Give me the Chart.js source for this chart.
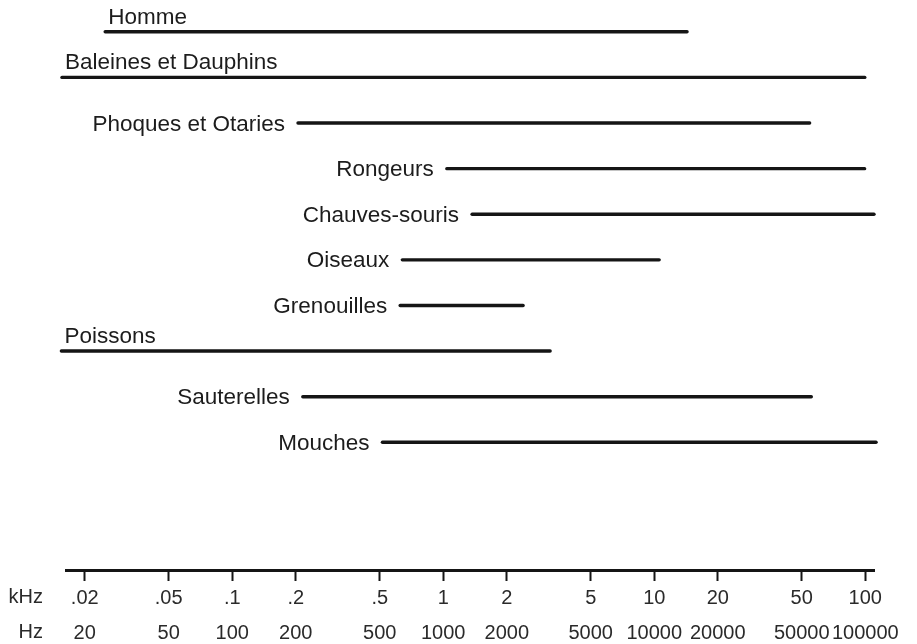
<!DOCTYPE html>
<html lang="fr">
<head>
<meta charset="utf-8">
<title>Domaines d'audition</title>
<script src="https://cdn.jsdelivr.net/npm/chart.js@4/dist/chart.umd.min.js"></script>
<style>
  html, body { margin: 0; padding: 0; background: #fff; }
  #wrap { width: 917px; height: 644px; position: relative; }
</style>
</head>
<body>
<div id="wrap"><canvas id="chartAudition"></canvas></div>
<script>
// groupes d'animaux, du haut vers le bas
var categories = ["Homme", "Baleines et Dauphins", "Phoques et Otaries", "Rongeurs", "Chauves-souris",
    "Oiseaux", "Grenouilles", "Poissons", "Sauterelles", "Mouches"]

// limites basse et haute de l'audition, en Hz
var lowHz = [25, 15.6, 205, 1040, 1370, 640, 625, 15.5, 216, 515]
var highHz = [14300, 99500, 54500, 99300, 110000, 10550, 2390, 3210, 55500, 112500]

// graduations de l'axe
var tickHz = [20, 50, 100, 200, 500, 1000, 2000, 5000, 10000, 20000, 50000, 100000]
var tickKHz = [".02", ".05", ".1", ".2", ".5", "1", "2", "5", "10", "20", "50", "100"]

// ces groupes ont leur nom au-dessus du trait, les autres à gauche
var labelAbove = ["Homme", "Baleines et Dauphins", "Poissons"]

var INK = "#151515"
var FONT = "'Liberation Sans', Arial, Helvetica, sans-serif"

var datasets = categories.map(function (nom, i) {
    return {
        label: nom,
        data: [{x: lowHz[i], y: i}, {x: highHz[i], y: i}],
        showLine: true,
        borderColor: INK,
        borderWidth: 3.4,
        borderCapStyle: "round",
        pointRadius: 0,
        clip: false
    }
})

// noms des groupes + titres des lignes de graduation
var labelsPlugin = {
    id: "labelsGroupes",
    afterDraw: function (chart) {
        var ctx = chart.ctx
        var sx = chart.scales.x
        var sy = chart.scales.y
        ctx.save()
        ctx.fillStyle = "#1c1c1c"
        ctx.font = "22.5px " + FONT
        ctx.textBaseline = "alphabetic"
        categories.forEach(function (nom, i) {
            var x0 = sx.getPixelForValue(lowHz[i])
            var y = sy.getPixelForValue(i)
            if (labelAbove.indexOf(nom) >= 0) {
                ctx.textAlign = "left"
                ctx.fillText(nom, x0 + 3, y - 8)
            } else {
                ctx.textAlign = "right"
                ctx.fillText(nom, x0 - 13, y + 7.5)
            }
        })

        var bas = chart.chartArea.bottom
        ctx.font = "20px " + FONT
        ctx.fillStyle = "#2a2a2a"
        ctx.textAlign = "right"
        ctx.textBaseline = "middle"
        ctx.fillText("kHz", 43, bas + 27)
        ctx.fillText("Hz", 43, bas + 62)
        ctx.restore()
    }
}

var chart = new Chart("chartAudition", {
    type: "scatter",
    data: {datasets: datasets},
    options: {
        responsive: true,
        maintainAspectRatio: false,
        animation: false,
        devicePixelRatio: 1,
        layout: {padding: {left: 66, right: 43, top: 9, bottom: 0}},
        plugins: {legend: {display: false}, tooltip: {enabled: false}},
        scales: {
            x: {
                type: "logarithmic",
                min: 16.3,
                max: 110000,
                afterBuildTicks: function (scale) {
                    scale.ticks = tickHz.map(function (v) { return {value: v} })
                },
                afterFit: function (scale) {
                    scale.height = 74
                },
                border: {display: true, color: INK, width: 3},
                grid: {drawOnChartArea: false, drawTicks: true, tickLength: 11, tickWidth: 2, color: INK},
                ticks: {
                    autoSkip: false,
                    maxRotation: 0,
                    padding: 0,
                    color: "#2a2a2a",
                    font: {family: FONT, size: 20, lineHeight: 1.75},
                    callback: function (value) {
                        var k = tickHz.indexOf(value)
                        return k >= 0 ? [tickKHz[k], String(tickHz[k])] : ""
                    }
                }
            },
            y: {
                type: "linear",
                reverse: true,
                min: -0.5,
                max: 11.8,
                display: false
            }
        }
    },
    plugins: [labelsPlugin]
})
</script>
</body>
</html>
